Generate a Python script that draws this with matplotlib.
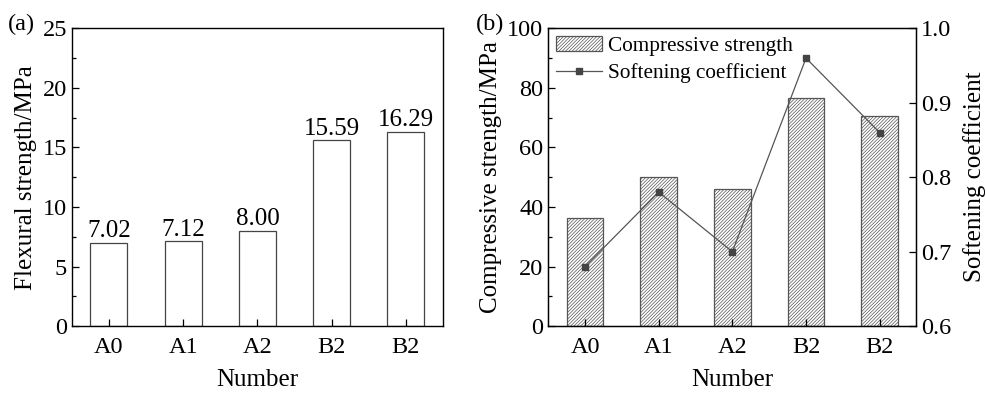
import matplotlib
matplotlib.use("Agg")
import matplotlib.pyplot as plt
from matplotlib.ticker import MultipleLocator
import numpy as np

plt.rcParams['font.family'] = ['Liberation Serif', 'DejaVu Serif']
plt.rcParams['hatch.color'] = '#666666'
plt.rcParams['hatch.linewidth'] = 0.5

categories = ['A0', 'A1', 'A2', 'B2', 'B2']
flexural = [7.02, 7.12, 8.00, 15.59, 16.29]
flexural_labels = ['7.02', '7.12', '8.00', '15.59', '16.29']
compressive = [36.3, 50.2, 45.9, 76.7, 70.7]
softening = [0.68, 0.78, 0.70, 0.96, 0.86]

fs = 17.5
fl = 18
fig = plt.figure(figsize=(9.86, 3.93), dpi=100)
ax1 = fig.add_axes([0.0728, 0.170, 0.3765, 0.758])
ax2 = fig.add_axes([0.5560, 0.170, 0.3735, 0.758])

x = np.arange(len(categories))

def style(ax):
    ax.tick_params(axis='both', which='both', direction='in', labelsize=fs, width=0.9)
    ax.tick_params(which='major', length=5)
    ax.tick_params(which='minor', length=3)
    ax.tick_params(axis='x', which='minor', bottom=False)
    ax.tick_params(axis='x', pad=8)
    for s in ax.spines.values():
        s.set_linewidth(1.0)
    ax.set_xticks(x)
    ax.set_xticklabels(categories)
    ax.set_xlim(-0.5, 4.5)

# Panel (a)
ax1.bar(x, flexural, width=0.5, color='white', edgecolor='#444444', linewidth=0.9)
for xi, v, lab in zip(x, flexural, flexural_labels):
    ax1.text(xi, v + 0.05, lab, ha='center', va='bottom', fontsize=fl)
ax1.set_ylim(0, 25)
ax1.yaxis.set_major_locator(MultipleLocator(5))
ax1.yaxis.set_minor_locator(MultipleLocator(2.5))
style(ax1)
ax1.set_xlabel('Number', fontsize=fl, labelpad=8)
ax1.set_ylabel('Flexural strength/MPa', fontsize=fl, labelpad=4)
fig.text(0.008, 0.937, '(a)', fontsize=fs, va='center', ha='left')

# Panel (b)
b = ax2.bar(x, compressive, width=0.5, color='white', edgecolor='#555555', linewidth=0.9,
            hatch='/' * 10, label='Compressive strength')
ax2.set_ylim(0, 100)
ax2.yaxis.set_major_locator(MultipleLocator(20))
ax2.yaxis.set_minor_locator(MultipleLocator(10))
style(ax2)
ax2.set_xlabel('Number', fontsize=fl, labelpad=8)
ax2.set_ylabel('Compressive strength/MPa', fontsize=fl, labelpad=4)

ax3 = ax2.twinx()
ln, = ax3.plot(x, softening, color='#555555', linewidth=0.9, marker='s', markersize=5,
               markerfacecolor='#444444', markeredgecolor='#444444', label='Softening coefficient')
ax3.set_ylim(0.6, 1.0)
ax3.yaxis.set_major_locator(MultipleLocator(0.1))
ax3.yaxis.set_minor_locator(MultipleLocator(0.05))
ax3.tick_params(axis='y', which='both', direction='in', labelsize=fs, width=0.9)
ax3.tick_params(axis='y', which='major', length=5)
ax3.tick_params(axis='y', which='minor', length=0)
ax3.set_ylabel('Softening coefficient', fontsize=fl, labelpad=8)
ax2.tick_params(axis='y', which='both', right=False)

ax2.legend([b, ln], ['Compressive strength', 'Softening coefficient'], loc='upper left',
           frameon=False, fontsize=15.3, handlelength=2.17, handletextpad=0.3,
           borderaxespad=0.15, labelspacing=0.35, borderpad=0.2)
fig.text(0.483, 0.937, '(b)', fontsize=fs, va='center', ha='left')

fig.savefig('out.png', dpi=100)
